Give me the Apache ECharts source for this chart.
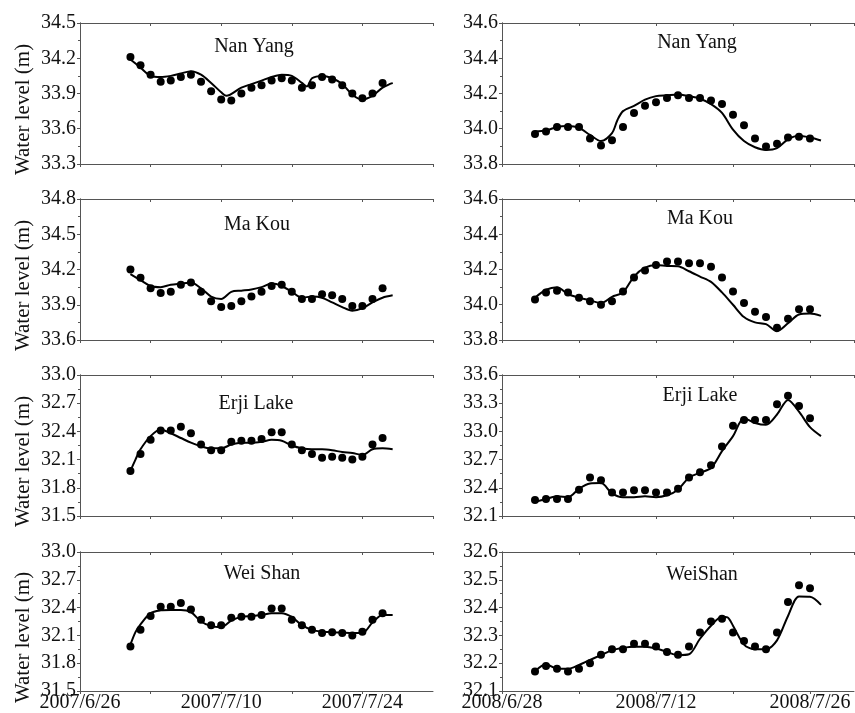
<!DOCTYPE html>
<html><head><meta charset="utf-8">
<script src="https://cdn.jsdelivr.net/npm/echarts@6/dist/echarts.min.js"></script>
<style>html,body{margin:0;padding:0;background:#fff}#c{width:855px;height:713px}</style>
</head><body><div id="c"></div>
<script>
// ---- data ----
const stations = ['Nan Yang', 'Ma Kou', 'Erji Lake', 'Wei Shan'];
const stations2008 = ['Nan Yang', 'Ma Kou', 'Erji Lake', 'WeiShan'];
const xTickDays = [0, 14, 28];
const xTickLabels2007 = ['2007/6/26', '2007/7/10', '2007/7/24'];
const xTickLabels2008 = ['2008/6/28', '2008/7/12', '2008/7/26'];
// observation days (offset from axis start)
const obsDays2007 = [5,6,7,8,9,10,11,12,13,14,15,16,17,18,19,20,21,22,23,24,25,26,27,28,29,30];
const obsDays2008 = [3,4,5,6,7,8,9,10,11,12,13,14,15,16,17,18,19,20,21,22,23,24,25,26,27,28];

// Panel 1: Nan Yang 2007
const obsNanYang2007 = [34.21,34.14,34.06,34.00,34.01,34.04,34.06,34.00,33.92,33.85,33.84,33.90,33.95,33.97,34.01,34.03,34.01,33.95,33.97,34.04,34.02,33.97,33.90,33.86,33.90,33.99];
const simDaysNanYang2007 = [5,6,7,8,9,10,11,12,13,14,14.5,16,17,18,19,20,21,22,22.5,23,24,25,26,27,28,29,30,31];
const simNanYang2007 = [34.19,34.12,34.05,34.04,34.05,34.07,34.09,34.06,33.99,33.91,33.88,33.95,33.98,34.01,34.04,34.06,34.05,33.99,33.96,34.03,34.05,34.03,33.98,33.89,33.85,33.88,33.95,33.99];
// Panel 2: Nan Yang 2008
const obsNanYang2008 = [33.97,33.985,34.01,34.01,34.01,33.945,33.905,33.935,34.01,34.09,34.13,34.15,34.175,34.19,34.175,34.175,34.16,34.14,34.08,34.02,33.945,33.90,33.915,33.95,33.955,33.945];
const simDaysNanYang2008 = [3,4,5,6,7,8,9,10,10.5,11,12,13,14,15,16,17,18,19,20,21,22,23,24,25,26,27,28,29];
const simNanYang2008 = [33.985,33.99,34.01,34.015,34.005,33.965,33.93,33.975,34.05,34.10,34.13,34.165,34.185,34.19,34.195,34.185,34.17,34.14,34.09,33.995,33.93,33.895,33.88,33.89,33.94,33.96,33.95,33.933];
// Panel 3: Ma Kou 2007
const obsMaKou2007 = [34.20,34.13,34.04,34.00,34.01,34.07,34.09,34.01,33.93,33.88,33.89,33.93,33.97,34.01,34.06,34.07,34.01,33.95,33.95,33.99,33.98,33.95,33.89,33.89,33.95,34.04];
const simDaysMaKou2007 = [5,6,7,8,9,10,11,12,13,14,15,16,17,18,19,20,21,22,23,24,25,26,27,28,29,30,31];
const simMaKou2007 = [34.16,34.11,34.06,34.05,34.07,34.08,34.09,34.04,33.97,33.95,34.01,34.02,34.03,34.05,34.08,34.06,34.01,33.96,33.97,33.96,33.92,33.88,33.85,33.87,33.92,33.96,33.98];
// Panel 4: Ma Kou 2008
const obsMaKou2008 = [34.03,34.07,34.08,34.07,34.04,34.02,34.00,34.02,34.075,34.155,34.195,34.225,34.245,34.245,34.235,34.235,34.215,34.155,34.075,34.01,33.96,33.93,33.87,33.92,33.975,33.975];
const simDaysMaKou2008 = [3,4,5,6,7,8,9,10,11,12,13,14,15,16,17,18,19,20,21,22,23,24,25,26,27,28,29];
const simMaKou2008 = [34.04,34.085,34.10,34.06,34.04,34.025,34.01,34.045,34.07,34.16,34.21,34.225,34.22,34.218,34.19,34.16,34.13,34.07,34.00,33.93,33.90,33.89,33.85,33.895,33.945,33.95,33.937];
// Panel 5: Erji Lake 2007
const obsErji2007 = [31.98,32.16,32.31,32.41,32.41,32.45,32.38,32.26,32.20,32.20,32.29,32.30,32.30,32.32,32.39,32.39,32.26,32.20,32.16,32.12,32.13,32.12,32.10,32.13,32.26,32.33];
const simDaysErji2007 = [5,5.5,6,7,8,9,10,11,12,13,14,15,16,17,18,19,20,21,22,23,24,25,26,27,28,29,30,31];
const simErji2007 = [31.98,32.10,32.21,32.35,32.42,32.38,32.33,32.28,32.24,32.22,32.22,32.26,32.28,32.28,32.29,32.31,32.30,32.25,32.22,32.21,32.21,32.20,32.18,32.17,32.15,32.21,32.22,32.21];
// Panel 6: Erji Lake 2008
const obsErji2008 = [32.27,32.28,32.28,32.28,32.38,32.51,32.48,32.35,32.35,32.375,32.375,32.35,32.35,32.39,32.51,32.565,32.64,32.84,33.06,33.12,33.12,33.12,33.29,33.38,33.27,33.14];
const simDaysErji2008 = [3,4,5,6,7,8,9,10,11,12,13,14,15,16,17,18,19,20,21,22,23,24,25,26,27,28,29];
const simErji2008 = [32.25,32.28,32.31,32.30,32.39,32.445,32.45,32.34,32.30,32.30,32.31,32.30,32.32,32.38,32.51,32.56,32.61,32.79,32.95,33.14,33.09,33.07,33.18,33.335,33.21,33.045,32.95];
// Panel 7: Wei Shan 2007
const obsWeiShan2007 = [31.98,32.16,32.31,32.41,32.41,32.45,32.38,32.27,32.21,32.21,32.29,32.30,32.30,32.32,32.39,32.39,32.27,32.21,32.16,32.125,32.135,32.125,32.10,32.14,32.27,32.34];
const simDaysWeiShan2007 = [5,5.5,6,7,8,9,10,11,12,13,14,15,16,17,18,19,20,21,22,23,24,25,26,27,28,29,30,31];
const simWeiShan2007 = [32.00,32.135,32.22,32.34,32.37,32.375,32.375,32.35,32.25,32.20,32.19,32.26,32.30,32.31,32.32,32.34,32.34,32.30,32.21,32.16,32.14,32.135,32.13,32.125,32.125,32.24,32.32,32.32];
// Panel 8: WeiShan 2008
const obsWeiShan2008 = [32.17,32.19,32.18,32.17,32.18,32.20,32.23,32.25,32.25,32.27,32.27,32.26,32.24,32.23,32.26,32.31,32.35,32.36,32.31,32.28,32.26,32.25,32.31,32.42,32.48,32.47];
const simDaysWeiShan2008 = [3,4,5,6,7,8,9,10,11,12,13,14,15,16,17,18,19,20,20.5,21,22,23,24,25,26,27,28,29];
const simWeiShan2008 = [32.171,32.196,32.18,32.18,32.194,32.212,32.229,32.247,32.255,32.259,32.259,32.253,32.241,32.229,32.232,32.288,32.335,32.367,32.365,32.335,32.267,32.25,32.25,32.282,32.37,32.44,32.439,32.41];

// y ranges [min, max, interval]
const yRanges2007 = [[33.3,34.5,0.3],[33.6,34.8,0.3],[31.5,33.0,0.3],[31.5,33.0,0.3]];
const yRanges2008 = [[33.8,34.6,0.2],[33.8,34.6,0.2],[32.1,33.6,0.3],[32.1,32.6,0.1]];

// ---- layout ----
const FONT = "'Liberation Serif','Times New Roman',serif";
const AX = '#555';
const rowTops = [23, 199, 375, 552];
const rowH = 141;
const cols = [
  {left: 80, width: 353, xmax: 35, days: obsDays2007, labels: xTickLabels2007, names: stations,
   titleX: [249, 252, 251, 257], titleDy: [9, 11, 14, 7], yr: yRanges2007,
   obs: [obsNanYang2007, obsMaKou2007, obsErji2007, obsWeiShan2007],
   simD: [simDaysNanYang2007, simDaysMaKou2007, simDaysErji2007, simDaysWeiShan2007],
   sim: [simNanYang2007, simMaKou2007, simErji2007, simWeiShan2007]},
  {left: 502, width: 352, xmax: 32, days: obsDays2008, labels: xTickLabels2008, names: stations2008,
   titleX: [692, 695, 695, 697], titleDy: [5, 5, 6, 8], yr: yRanges2008,
   obs: [obsNanYang2008, obsMaKou2008, obsErji2008, obsWeiShan2008],
   simD: [simDaysNanYang2008, simDaysMaKou2008, simDaysErji2008, simDaysWeiShan2008],
   sim: [simNanYang2008, simMaKou2008, simErji2008, simWeiShan2008]}
];

const grid = [], xAxis = [], yAxis = [], series = [], title = [];
let gi = 0;
cols.forEach((c, ci) => {
  for (let r = 0; r < 4; r++) {
    grid.push({left: c.left, top: rowTops[r], width: c.width, height: rowH, show: false});
    const lastRow = r === 3;
    const xBase = {type: 'value', gridIndex: gi, min: 0, max: c.xmax, interval: 7,
      splitLine: {show: false}, axisLine: {show: true, lineStyle: {color: AX, width: 1}}};
    xAxis.push(Object.assign({}, xBase, {position: 'bottom',
      axisTick: {show: true, inside: false, length: 3, lineStyle: {color: AX}},
      axisLabel: {show: lastRow, margin: 2, color: '#111', fontFamily: FONT, fontSize: 20,
        showMinLabel: true, showMaxLabel: false,
        formatter: v => { const k = xTickDays.indexOf(Math.round(v)); return k >= 0 ? c.labels[k] : ''; }}}));
    xAxis.push(Object.assign({}, xBase, {position: 'top',
      axisTick: {show: true, inside: true, length: 3, lineStyle: {color: AX}},
      axisLabel: {show: false}}));
    const [ymin, ymax, yint] = c.yr[r];
    const yBase = {type: 'value', gridIndex: gi, min: ymin, max: ymax, interval: yint,
      splitLine: {show: false}, axisLine: {show: true, lineStyle: {color: AX, width: 1}},
      minorTick: {show: true, splitNumber: 2, length: 2, lineStyle: {color: AX}}};
    yAxis.push(Object.assign({}, yBase, {position: 'left',
      axisTick: {show: true, inside: false, length: 3, lineStyle: {color: AX}},
      axisLabel: {show: true, margin: 4, color: '#111', fontFamily: FONT, fontSize: 20,
        formatter: v => v.toFixed(1)},
      name: ci === 0 ? 'Water level (m)' : '',
      nameLocation: 'middle', nameGap: 46,
      nameTextStyle: {fontFamily: FONT, fontSize: 21, color: '#111', padding: [0, 32, 0, 0]}}));
    yAxis.push(Object.assign({}, yBase, {position: 'right',
      axisTick: {show: true, inside: true, length: 3, lineStyle: {color: AX}},
      axisLabel: {show: false}}));
    const xi = gi * 2, yi = gi * 2;
    series.push({type: 'line', xAxisIndex: xi, yAxisIndex: yi, showSymbol: false, smooth: 0.3,
      data: c.simD[r].map((d, i) => [d, c.sim[r][i]]),
      lineStyle: {color: '#000', width: 2}, itemStyle: {color: '#000'}, z: 2});
    series.push({type: 'scatter', xAxisIndex: xi, yAxisIndex: yi, symbol: 'circle', symbolSize: 8,
      data: c.days.map((d, i) => [d, c.obs[r][i]]),
      itemStyle: {color: '#000', opacity: 1}, z: 3});
    title.push({text: c.names[r], left: c.titleX[r], top: rowTops[r] + c.titleDy[r], textAlign: 'center',
      textStyle: {fontFamily: FONT, fontSize: 20, fontWeight: 'normal', color: '#111'}});
    gi++;
  }
});

const chart = echarts.init(document.getElementById('c'));
chart.setOption({animation: false, backgroundColor: '#fff', title, grid, xAxis, yAxis, series});
</script></body></html>
